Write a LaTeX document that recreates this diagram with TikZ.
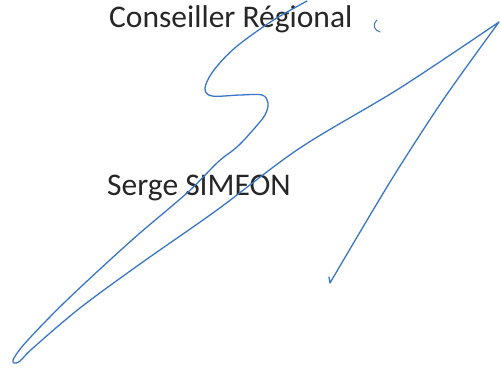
\documentclass[tikz,border=0pt]{standalone}
\usepackage{fontspec}
\setmainfont{Carlito}
\definecolor{ink}{RGB}{58,118,200}
\definecolor{txt}{RGB}{38,38,38}
\begin{document}
\begin{tikzpicture}[x=1pt,y=-1pt,
  sig/.style={draw=ink,line width=1.3pt,line cap=round,line join=round},
  lab/.style={text=txt,font=\fontsize{31.5}{34}\selectfont,inner sep=0pt,anchor=base west}]
\useasboundingbox (0,0) rectangle (501,371);
\node[lab] (t1) at (109,28) {Conseiller Régional};
\node[lab] (t2) at (107,196) {Serge SIMEON};
\draw[sig] plot[smooth,tension=0.55] coordinates {(307,1) (272,21) (236,47) (214,70) (205,88) (212,96) (240,95) (262,95) (268,103) (265,115) (253,130) (237,147) (218,162) (187,193) (132,240) (67,300) (27,341) (14,358) (14,363) (20,361) (33,348) (80,308) (140,264) (217,210) (300,148) (400,88) (499,22)}
  -- plot[smooth,tension=0.5] coordinates {(499,22) (443,100) (390,182) (330,283)}
  -- (329,277);
\draw[sig,line width=1pt] (377,20) .. controls (372,25) and (374,30) .. (380,32);
\end{tikzpicture}
\end{document}
